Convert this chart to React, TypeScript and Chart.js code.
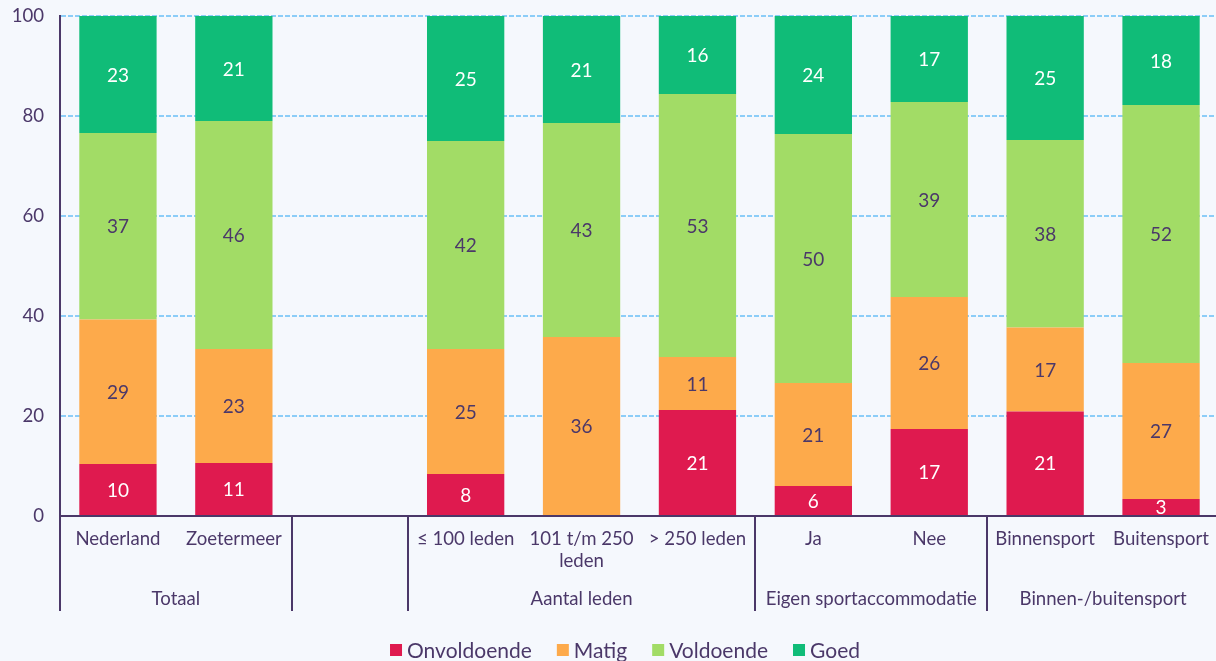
import React, { useEffect, useRef } from 'react';
import { Chart, registerables } from 'chart.js';

Chart.register(...registerables);

// ---- Data ----
const categories: (string | string[])[] = [
  'Nederland',
  'Zoetermeer',
  '',
  '≤ 100 leden',
  ['101 t/m 250', 'leden'],
  '> 250 leden',
  'Ja',
  'Nee',
  'Binnensport',
  'Buitensport',
];

const groupNames = ['Totaal', '', 'Aantal leden', 'Eigen sportaccommodatie', 'Binnen-/buitensport'];
const groupSizes = [2, 1, 3, 2, 2];

const onvoldoende = [10.4, 10.6, null, 8.4, 0, 21.2, 6.0, 17.4, 20.9, 3.4];
const matig = [28.9, 22.8, null, 25.0, 35.8, 10.6, 20.6, 26.4, 16.8, 27.2];
const voldoende = [37.3, 45.6, null, 41.6, 42.8, 52.6, 49.8, 39.0, 37.5, 51.6];
const goed = [23.4, 21.0, null, 25.0, 21.4, 15.6, 23.6, 17.2, 24.8, 17.8];

const seriesNames = ['Onvoldoende', 'Matig', 'Voldoende', 'Goed'];
const yTicks = [0, 20, 40, 60, 80, 100];

// ---- Styles ----
const DARK = '#4b3869';
const BG = '#f5f8fd';
const COLORS = ['#df1a4f', '#fdaa4b', '#a2dc66', '#10bc78'];
const LABEL_COLORS = ['#ffffff', DARK, DARK, '#ffffff'];
const FONT = 'Lato, "Noto Sans", sans-serif';
const AXIS_SIZE = 18.6;
const PLOT_OVERHANG = 3; // plot area runs slightly past the right canvas edge

const overlayPlugin = {
  id: 'overlay',
  afterLayout(chart: any) {
    const xs = chart.scales.x;
    xs.right += PLOT_OVERHANG;
    xs.width = xs.right - xs.left;
    xs.configure();
    chart.chartArea.right += PLOT_OVERHANG;
    chart.chartArea.width = chart.chartArea.right - chart.chartArea.left;
  },
  afterDatasetsDraw(chart: any) {
    const ctx = chart.ctx;
    ctx.save();
    ctx.font = `19px ${FONT}`;
    ctx.textAlign = 'center';
    ctx.textBaseline = 'middle';
    chart.data.datasets.forEach((ds: any, di: number) => {
      const meta = chart.getDatasetMeta(di);
      meta.data.forEach((el: any, i: number) => {
        const v = ds.data[i];
        if (v === null || v === undefined || v <= 0) return;
        const { x, y, base } = el.getProps(['x', 'y', 'base'], true);
        ctx.fillStyle = LABEL_COLORS[di];
        ctx.fillText(String(Math.round(v)), x, (y + base) / 2 + 1);
      });
    });
    ctx.restore();
  },
  afterDraw(chart: any) {
    const ctx = chart.ctx;
    const xs = chart.scales.x;
    const area = chart.chartArea;
    const bottom = 611;
    ctx.save();
    ctx.strokeStyle = DARK;
    ctx.lineWidth = 2;
    ctx.beginPath();
    ctx.moveTo(area.left, area.bottom);
    ctx.lineTo(area.left, bottom);
    ctx.stroke();
    ctx.font = `${AXIS_SIZE}px ${FONT}`;
    ctx.fillStyle = DARK;
    ctx.textAlign = 'center';
    ctx.textBaseline = 'middle';
    let start = 0;
    groupSizes.forEach((size, gi) => {
      const end = start + size - 1;
      const cx = (xs.getPixelForValue(start) + xs.getPixelForValue(end)) / 2;
      if (groupNames[gi]) ctx.fillText(groupNames[gi], cx, 599);
      if (gi > 0) {
        const bx = Math.round((xs.getPixelForValue(start - 1) + xs.getPixelForValue(start)) / 2);
        ctx.beginPath();
        ctx.moveTo(bx, area.bottom);
        ctx.lineTo(bx, bottom);
        ctx.stroke();
      }
      start += size;
    });
    // legend
    ctx.font = `21px ${FONT}`;
    const box = 12;
    const gapBox = 5;
    const gapItem = 25;
    const widths = seriesNames.map((n) => ctx.measureText(n).width);
    const total = widths.reduce((a, w) => a + box + gapBox + w, 0) + gapItem * (seriesNames.length - 1);
    let lx = 625 - total / 2;
    const ly = 650;
    ctx.textAlign = 'left';
    seriesNames.forEach((n, i) => {
      ctx.fillStyle = COLORS[i];
      ctx.fillRect(lx, ly - box / 2, box, box);
      lx += box + gapBox;
      ctx.fillStyle = DARK;
      ctx.fillText(n, lx, ly + 1);
      lx += widths[i] + gapItem;
    });
    ctx.restore();
  },
};

export default function App() {
  const ref = useRef<HTMLCanvasElement>(null);
  useEffect(() => {
    if (!ref.current) return;
    const chart = new Chart(ref.current, {
      type: 'bar',
      data: {
        labels: categories as any,
        datasets: [onvoldoende, matig, voldoende, goed].map((d, i) => ({
          label: seriesNames[i],
          data: d as any,
          backgroundColor: COLORS[i],
          borderWidth: 0,
          barPercentage: 0.667,
          categoryPercentage: 1,
        })),
      },
      options: {
        responsive: false,
        animation: false,
        devicePixelRatio: 1,
        layout: { padding: { top: 16, left: 0, right: 0, bottom: 0 } },
        plugins: { legend: { display: false }, tooltip: { enabled: false } },
        scales: {
          x: {
            stacked: true,
            grid: { display: false, drawTicks: false },
            border: { display: true, color: DARK, width: 2 },
            ticks: {
              padding: 12,
              color: DARK,
              font: { family: FONT, size: AXIS_SIZE },
              maxRotation: 0,
              autoSkip: false,
            },
            afterFit: (s: any) => {
              s.height = 145;
              s.paddingLeft = 0;
              s.paddingRight = 0;
            },
          },
          y: {
            stacked: true,
            min: 0,
            max: 100,
            afterBuildTicks: (s: any) => {
              s.ticks = yTicks.map((v) => ({ value: v }));
            },
            ticks: { padding: 16, color: DARK, font: { family: FONT, size: AXIS_SIZE } },
            grid: {
              drawTicks: false,
              color: (c: any) => (c.tick && c.tick.value === 0 ? 'rgba(0,0,0,0)' : '#8ccdf8'),
              lineWidth: 2,
            },
            border: { display: true, color: DARK, width: 2, dash: [5, 2] },
            afterFit: (s: any) => {
              s.width = 60;
              s.paddingTop = 0;
              s.paddingBottom = 0;
            },
          },
        },
      },
      plugins: [overlayPlugin],
    });
    return () => chart.destroy();
  }, []);
  return (
    <div style={{ position: 'fixed', left: 0, top: 0, width: 1216, height: 661, background: BG }}>
      <canvas ref={ref} width={1216} height={661} style={{ display: 'block' }} />
    </div>
  );
}
